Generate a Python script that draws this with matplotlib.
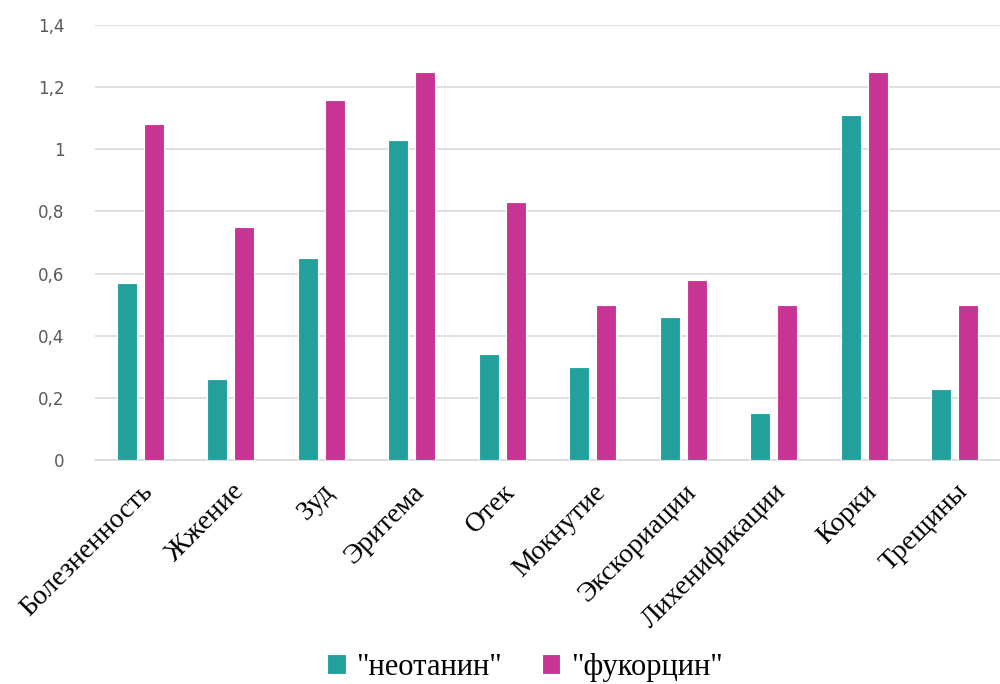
import matplotlib.pyplot as plt
import numpy as np
from matplotlib.ticker import FuncFormatter

categories = ['Болезненность', 'Жжение', 'Зуд', 'Эритема', 'Отек', 'Мокнутие',
              'Экскориации', 'Лихенификации', 'Корки', 'Трещины']
neotanin = [0.57, 0.26, 0.65, 1.03, 0.34, 0.30, 0.46, 0.15, 1.11, 0.23]
fukorcin = [1.08, 0.75, 1.16, 1.25, 0.83, 0.50, 0.58, 0.50, 1.25, 0.50]
series_names = ['"неотанин"', '"фукорцин"']

teal = '#22A19C'
magenta = '#C83494'

fig = plt.figure(figsize=(10, 6.84), dpi=100)
ax = fig.add_axes([0.095, 0.3275, 0.905, 0.636])

x = np.arange(len(categories))
w = 0.22
ax.bar(x - 0.15, neotanin, w, color=teal, edgecolor='white', linewidth=0.8,
       label=series_names[0], zorder=3)
ax.bar(x + 0.15, fukorcin, w, color=magenta, edgecolor='white', linewidth=0.8,
       label=series_names[1], zorder=3)

ax.set_xlim(-0.5, len(categories) - 0.5)
ax.set_ylim(0, 1.4)
ax.set_yticks(np.arange(0, 1.41, 0.2))
ax.yaxis.set_major_formatter(FuncFormatter(lambda v, p: ('%g' % round(v, 1)).replace('.', ',')))
ax.grid(axis='y', color='#D9D9D9', linewidth=1.2, zorder=0)
for s in ['top', 'right', 'left']:
    ax.spines[s].set_visible(False)
ax.spines['bottom'].set_color('#D9D9D9')
ax.spines['bottom'].set_linewidth(1.2)
ax.tick_params(axis='both', length=0)
ax.tick_params(axis='y', labelsize=12, labelcolor='#595959', pad=22)

ax.set_xticks(x)
ax.set_xticklabels(categories, rotation=45, ha='right', rotation_mode='anchor',
                   fontsize=20, family='Liberation Serif')
ax.tick_params(axis='x', pad=14)

leg = fig.legend(loc='lower center', bbox_to_anchor=(0.525, -0.037), ncol=2, frameon=False,
                 prop={'family': 'Liberation Serif', 'size': 22},
                 handlelength=0.6, handleheight=0.6, columnspacing=1.3, handletextpad=0.35)

fig.savefig('out.png', dpi=100)
